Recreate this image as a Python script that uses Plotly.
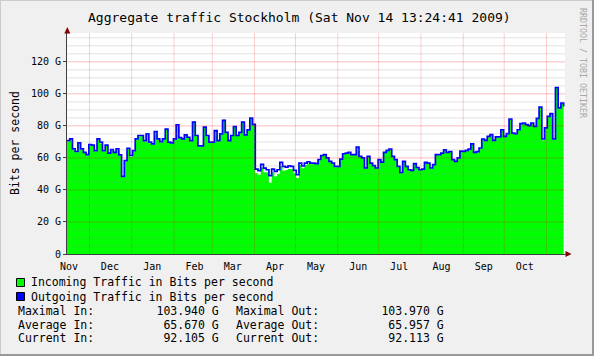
import plotly.graph_objects as go
import pandas as pd

# ---------------- data ----------------
start = pd.Timestamp("2008-11-14 13:24:41")
end = pd.Timestamp("2009-11-14 13:24:41")
step_days = 2

out_gbps = [
    70.8, 71.9, 65.6, 64.0, 69.4, 65.6, 63.5, 62.0, 68.3, 68.0,
    64.6, 71.9, 69.8, 64.6, 68.0, 63.0, 65.2, 63.5, 65.6, 61.9,
    48.5, 58.3, 66.0, 61.5, 64.6, 71.9, 74.0, 74.0, 70.8, 75.0,
    69.8, 68.8, 76.5, 71.9, 70.2, 71.9, 78.0, 69.8, 69.4, 71.9,
    80.6, 72.7, 71.9, 74.4, 72.9, 70.8, 82.3, 74.0, 67.5, 67.5,
    79.2, 74.0, 69.8, 69.8, 77.0, 70.8, 75.0, 83.5, 76.0, 70.8,
    74.0, 79.6, 74.0, 76.0, 82.3, 74.4, 77.5, 84.8, 81.0, 53.0,
    52.0, 56.0, 53.6, 52.6, 49.0, 53.0, 51.6, 52.6, 57.2, 54.7,
    54.3, 55.0, 54.7, 52.2, 49.5, 56.8, 55.0, 56.8, 57.6, 56.8,
    56.8, 56.4, 59.0, 61.5, 62.0, 60.0, 57.8, 56.8, 54.7, 54.7,
    59.3, 62.6, 63.0, 63.4, 62.0, 62.0, 66.8, 61.0, 60.0, 53.7,
    61.0, 56.8, 55.2, 53.7, 59.0, 57.4, 63.5, 64.7, 65.5, 61.0,
    58.9, 54.7, 50.9, 57.8, 54.7, 52.6, 52.2, 56.4, 54.0, 52.6,
    53.0, 57.2, 56.8, 53.7, 55.8, 62.0, 62.0, 63.0, 65.0, 63.4,
    64.0, 58.9, 57.8, 60.0, 64.3, 64.1, 64.7, 65.5, 68.8, 63.4,
    63.9, 66.2, 71.8, 71.0, 73.5, 74.5, 71.0, 73.1, 73.1, 77.6,
    73.5, 75.2, 84.3, 75.5, 75.2, 77.6, 81.4, 81.8, 80.8, 80.2,
    81.8, 79.7, 84.7, 91.8, 71.8, 78.7, 86.0, 87.6, 71.8, 103.97,
    91.2, 94.3, 92.113,
]

in_gbps = [
    70.2, 71.0, 65.0, 63.6, 68.8, 65.0, 63.0, 61.5, 67.6, 67.5,
    64.0, 71.3, 69.0, 64.0, 67.5, 62.5, 64.6, 63.0, 64.9, 61.3,
    48.0, 57.6, 65.4, 60.8, 64.0, 71.2, 73.6, 73.5, 70.2, 74.6,
    69.2, 68.3, 76.0, 71.5, 69.7, 71.4, 77.6, 69.4, 69.0, 71.6,
    80.9, 72.3, 71.6, 74.0, 72.6, 70.5, 82.6, 73.6, 67.2, 67.3,
    79.4, 73.6, 69.5, 69.6, 77.3, 70.5, 74.7, 83.8, 75.7, 70.6,
    73.8, 79.8, 73.7, 75.8, 82.6, 74.2, 77.3, 84.9, 80.8, 50.5,
    49.5, 54.0, 51.0, 51.0, 44.5, 51.0, 48.5, 50.0, 55.0, 52.0,
    52.5, 53.0, 53.0, 50.5, 47.5, 55.5, 53.5, 55.5, 56.5, 56.0,
    56.4, 56.0, 58.6, 61.2, 61.8, 59.6, 57.4, 56.4, 54.2, 54.3,
    59.0, 62.3, 62.8, 63.1, 61.7, 61.8, 67.0, 60.6, 59.7, 53.2,
    60.7, 56.4, 54.9, 53.4, 58.7, 57.1, 63.3, 64.5, 65.3, 60.7,
    58.6, 54.4, 50.6, 57.5, 54.4, 52.3, 51.9, 56.1, 53.7, 52.3,
    52.7, 56.9, 56.5, 53.4, 55.5, 61.8, 61.7, 62.7, 64.8, 63.1,
    63.7, 58.6, 57.5, 59.7, 64.0, 63.8, 64.4, 65.2, 68.4, 63.1,
    63.6, 65.9, 71.5, 70.7, 73.2, 74.2, 70.7, 72.8, 72.8, 77.3,
    73.2, 74.9, 84.0, 75.2, 74.9, 77.3, 81.1, 81.5, 80.5, 79.9,
    81.5, 79.4, 84.4, 91.5, 71.0, 78.4, 85.7, 87.3, 71.5, 103.94,
    91.0, 94.0, 92.105,
]

dates = [start + pd.Timedelta(days=step_days * i) for i in range(len(out_gbps))]

y_tick_vals = [0, 20, 40, 60, 80, 100, 120]
y_tick_text = ["0", "20 G", "40 G", "60 G", "80 G", "100 G", "120 G"]
y_max = 138

month_starts = list(pd.date_range("2008-12-01", "2009-11-01", freq="MS"))
label_months = list(pd.date_range("2008-11-01", "2009-10-01", freq="MS"))
label_pos = [m + pd.Timedelta(days=15) for m in label_months]
label_text = [m.strftime("%b") for m in label_months]

stats_in = {"Maximal": 103.940, "Average": 65.670, "Current": 92.105}
stats_out = {"Maximal": 103.970, "Average": 65.957, "Current": 92.113}

title_text = "Aggregate traffic Stockholm (Sat Nov 14 13:24:41 2009)"
ylabel = "Bits per second"
in_label = "Incoming Traffic in Bits per second"
out_label = "Outgoing Traffic in Bits per second"
watermark = "RRDTOOL / TOBI OETIKER"

# ---------------- style ----------------
GREEN = "#00FF00"
BLUE = "#0000FF"
FONT = "DejaVu Sans Mono"
AXIS = "#404040"
ARROW = "#800000"
MAJOR_H = "rgba(235,0,0,0.26)"
MAJOR_V = "rgba(235,0,0,0.19)"
MINOR = "rgba(143,143,143,0.25)"

W, H = 594, 356
L, R, T, B = 67, 29, 33, 102
PW, PH = W - L - R, H - T - B


def px(x):
    return (x - L) / PW


def py(y):
    return (H - B - y) / PH


fig = go.Figure()
fig.add_trace(go.Scatter(
    x=dates, y=in_gbps, mode="lines",
    line=dict(shape="hv", width=0, color=GREEN),
    fill="tozeroy", fillcolor=GREEN, hoverinfo="skip",
))
fig.add_trace(go.Scatter(
    x=dates, y=out_gbps, mode="lines",
    line=dict(shape="hv", width=1.7, color=BLUE), hoverinfo="skip",
))

shapes = []
# horizontal grid (drawn above data like rrdtool)
for v in range(5, y_max, 5):
    shapes.append(dict(type="line", xref="paper", x0=0, x1=1, yref="y", y0=v, y1=v,
                       line=dict(color=MAJOR_H if v % 20 == 0 else MINOR, width=1),
                       layer="above"))
for m in month_starts:
    shapes.append(dict(type="line", xref="x", x0=m, x1=m, yref="paper", y0=0, y1=1,
                       line=dict(color=MAJOR_V, width=1), layer="above"))

# axis arrows
shapes.append(dict(type="path", xref="paper", yref="paper",
                   path=f"M {px(64.3)},{py(33.5)} L {px(70.3)},{py(33.5)} L {px(67.3)},{py(27)} Z",
                   fillcolor=ARROW, line=dict(width=0), layer="above"))
shapes.append(dict(type="line", xref="paper", yref="paper", x0=px(565), x1=px(566), y0=0, y1=0,
                   line=dict(color=AXIS, width=1), layer="above"))
shapes.append(dict(type="path", xref="paper", yref="paper",
                   path=f"M {px(565.5)},{py(251)} L {px(565.5)},{py(257)} L {px(571.5)},{py(254)} Z",
                   fillcolor=ARROW, line=dict(width=0), layer="above"))

# outer 3D frame
shapes.append(dict(type="line", xref="paper", yref="paper", x0=px(0), x1=px(594), y0=py(0.5), y1=py(0.5),
                   line=dict(color="#cbcbcb", width=1), layer="above"))
shapes.append(dict(type="line", xref="paper", yref="paper", x0=px(0.5), x1=px(0.5), y0=py(0), y1=py(356),
                   line=dict(color="#cbcbcb", width=1), layer="above"))
shapes.append(dict(type="line", xref="paper", yref="paper", x0=px(593), x1=px(593), y0=py(0), y1=py(356),
                   line=dict(color="#999999", width=2), layer="above"))
shapes.append(dict(type="line", xref="paper", yref="paper", x0=px(0), x1=px(594), y0=py(355), y1=py(355),
                   line=dict(color="#999999", width=2), layer="above"))

# legend boxes
for color, cy in [(GREEN, 282.5), (BLUE, 296.5)]:
    shapes.append(dict(type="rect", xref="paper", yref="paper",
                       x0=px(16.5), x1=px(24.5), y0=py(cy - 4), y1=py(cy + 4),
                       fillcolor=color, line=dict(color="black", width=1), layer="above"))

annotations = []


def ann(text, x, y, size, xanchor="left", color="black", angle=0):
    annotations.append(dict(
        text=text.replace(" ", "\u00a0"), xref="paper", yref="paper", x=px(x), y=py(y),
        xanchor=xanchor, yanchor="middle", showarrow=False, textangle=angle,
        font=dict(family=FONT, size=size, color=color), borderpad=0,
    ))


ann(title_text, 299, 17, 13, xanchor="center")
ann(ylabel, 15, 143, 11.5, xanchor="center", angle=-90)
ann(watermark, 583, 63, 8.3, xanchor="center", color="#a8a8a8", angle=90)
ann(in_label, 30, 282, 11.5)
ann(out_label, 30, 296.5, 11.5)

rows_y = [310.5, 324.5, 338]
for (name, vin), vout, yy in zip(stats_in.items(), stats_out.values(), rows_y):
    left_txt = f"{name} In:" + f"{vin:.3f} G".rjust(18)
    right_txt = f"{name} Out:" + f"{vout:.3f} G".rjust(18)
    ann(left_txt, 16.5, yy, 11.5)
    ann(right_txt, 235, yy, 11.5)

fig.update_layout(
    width=W, height=H,
    margin=dict(l=L, r=R, t=T, b=B, pad=0, autoexpand=False),
    paper_bgcolor="#f0f0f0", plot_bgcolor="white",
    showlegend=False,
    shapes=shapes, annotations=annotations,
    font=dict(family=FONT, color="black"),
)
fig.update_xaxes(
    type="date", range=[start, end],
    tickvals=label_pos, ticktext=label_text, ticks="",
    ticklabelstandoff=3,
    showgrid=False, zeroline=False, showline=True, linecolor=AXIS, linewidth=1,
    tickfont=dict(family=FONT, size=10, color="black"),
)
fig.update_yaxes(
    range=[0, y_max], tickvals=y_tick_vals, ticktext=y_tick_text,
    ticks="outside", ticklen=3, tickcolor=AXIS,
    showgrid=False, zeroline=False, showline=True, linecolor=AXIS, linewidth=1,
    tickfont=dict(family=FONT, size=10, color="black"),
)

fig.write_html(
    "out.html",
    config={"displayModeBar": False},
    post_script="document.body.style.margin='0';document.body.style.padding='0';",
)
